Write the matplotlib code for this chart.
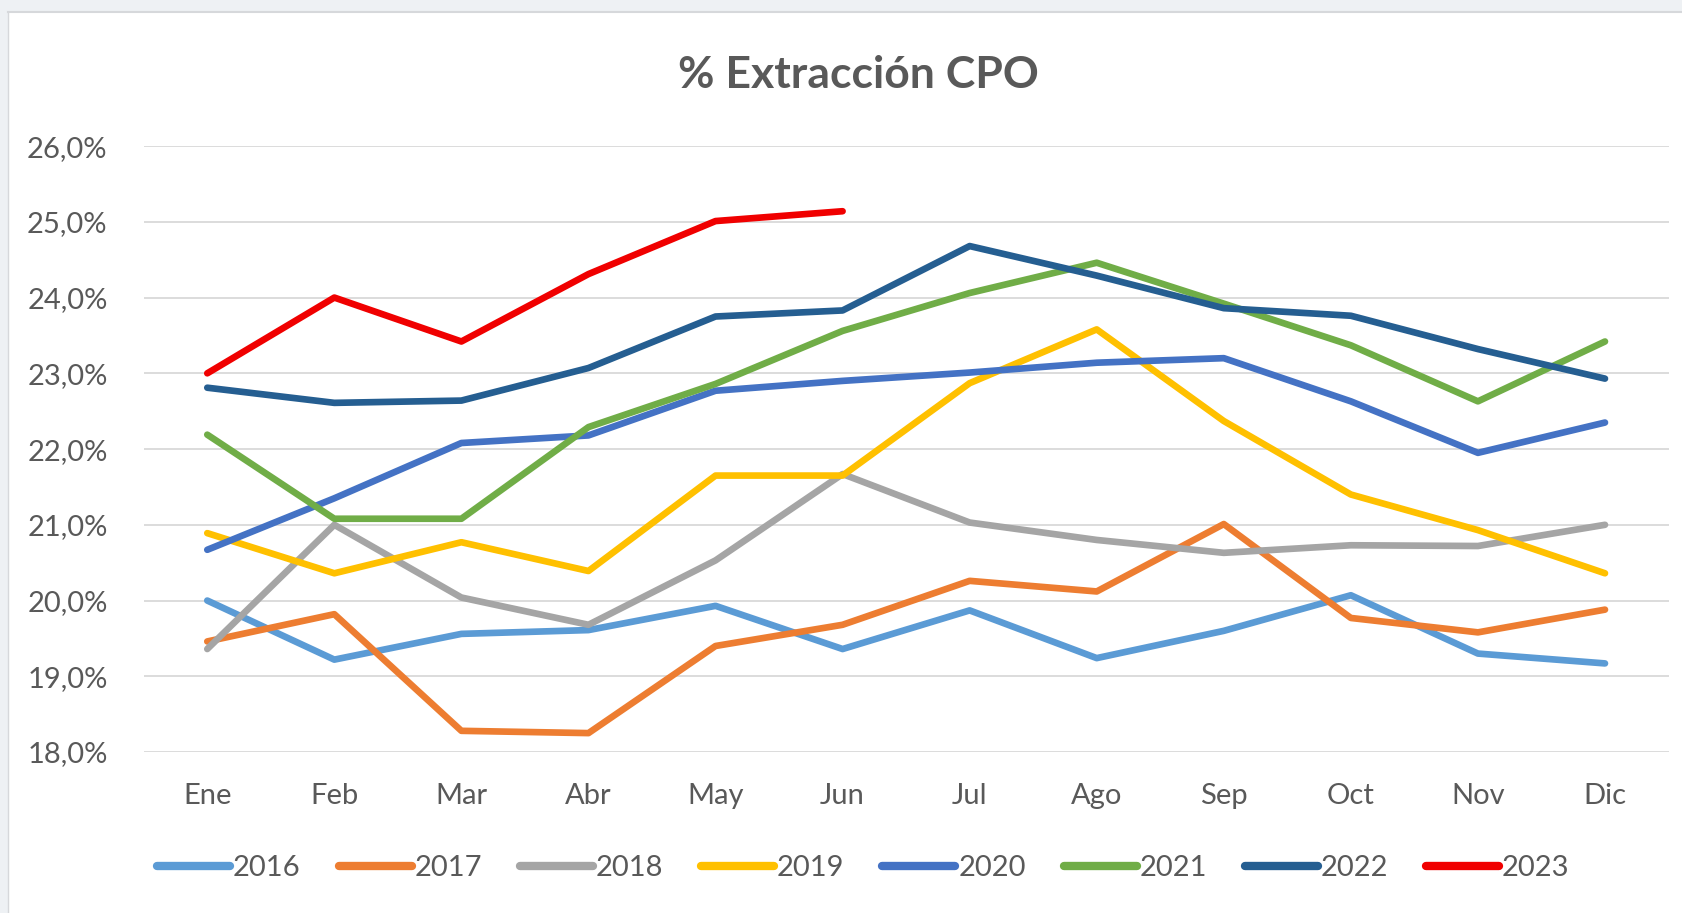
import matplotlib.pyplot as plt
from matplotlib.patches import Rectangle

# -------- Data --------
months = ['Ene', 'Feb', 'Mar', 'Abr', 'May', 'Jun',
          'Jul', 'Ago', 'Sep', 'Oct', 'Nov', 'Dic']

y2016 = [20.00, 19.22, 19.56, 19.61, 19.93, 19.36, 19.87, 19.24, 19.60, 20.07, 19.30, 19.17]
y2017 = [19.46, 19.82, 18.28, 18.25, 19.40, 19.68, 20.26, 20.12, 21.01, 19.77, 19.58, 19.88]
y2018 = [19.36, 21.00, 20.04, 19.68, 20.53, 21.67, 21.03, 20.80, 20.63, 20.73, 20.72, 21.00]
y2019 = [20.89, 20.36, 20.77, 20.39, 21.65, 21.65, 22.87, 23.58, 22.37, 21.40, 20.93, 20.36]
y2020 = [20.67, 21.35, 22.08, 22.18, 22.77, 22.90, 23.01, 23.14, 23.20, 22.63, 21.95, 22.35]
y2021 = [22.19, 21.08, 21.08, 22.29, 22.86, 23.56, 24.06, 24.46, 23.92, 23.37, 22.63, 23.42]
y2022 = [22.81, 22.61, 22.64, 23.07, 23.75, 23.83, 24.68, 24.29, 23.86, 23.76, 23.32, 22.93]
y2023 = [23.00, 24.00, 23.42, 24.31, 25.01, 25.14]

years = ['2016', '2017', '2018', '2019', '2020', '2021', '2022', '2023']
series = [y2016, y2017, y2018, y2019, y2020, y2021, y2022, y2023]
colors = ['#5B9BD5', '#ED7D31', '#A5A5A5', '#FFC000',
          '#4472C4', '#70AD47', '#255E91', '#F00000']

yticks = [18, 19, 20, 21, 22, 23, 24, 25, 26]
ytick_labels = [f'{v:.1f}%'.replace('.', ',') for v in yticks]

# -------- Figure --------
plt.rcParams['font.family'] = ['Lato', 'DejaVu Sans']
text_color = '#595959'

fig = plt.figure(figsize=(16.83, 9.13), dpi=100)

# light frame of the screenshot (top and left strips)
fig.patches.append(Rectangle((0, 1 - 11 / 913), 1, 11 / 913, transform=fig.transFigure,
                             facecolor='#EEF1F4', edgecolor='none', zorder=0))
fig.patches.append(Rectangle((0, 0), 8 / 1683, 1, transform=fig.transFigure,
                             facecolor='#EEF1F4', edgecolor='none', zorder=0))
fig.lines.append(plt.Line2D([8 / 1683, 1], [1 - 12 / 913, 1 - 12 / 913],
                            transform=fig.transFigure, color='#D6D8DB', lw=1.5))
fig.lines.append(plt.Line2D([8 / 1683, 8 / 1683], [0, 1 - 12 / 913],
                            transform=fig.transFigure, color='#D6D8DB', lw=1.0))

ax = fig.add_axes([0.0854, 0.1763, 0.906, 0.6637])

x = list(range(len(months)))
for name, vals, col in zip(years, series, colors):
    ax.plot(x[:len(vals)], vals, color=col, lw=4.8, label=name,
            solid_joinstyle='round', solid_capstyle='round')

ax.set_xlim(-0.5, len(months) - 0.5)
ax.set_ylim(18, 26)
ax.set_yticks(yticks)
ax.set_yticklabels(ytick_labels)
ax.set_xticks(x)
ax.set_xticklabels(months)

ax.grid(axis='y', color='#D9D9D9', lw=1.3)
ax.set_axisbelow(True)
for s in ax.spines.values():
    s.set_visible(False)
ax.tick_params(axis='y', length=0, pad=26, labelsize=21, labelcolor=text_color)
ax.tick_params(axis='x', length=0, pad=22, labelsize=21, labelcolor=text_color)

fig.text(0.51, 1 - 75 / 913, '% Extracción CPO', ha='center', va='center',
         fontsize=32, fontweight='bold', color=text_color)

leg = fig.legend(loc='center', bbox_to_anchor=(0.513, 1 - 868 / 913), ncol=8,
                 frameon=False, fontsize=21, handlelength=2.5, handletextpad=0.1,
                 columnspacing=1.3)
for t in leg.get_texts():
    t.set_color(text_color)
for h in leg.get_lines():
    h.set_linewidth(6)

fig.savefig('out.png', dpi=100)
